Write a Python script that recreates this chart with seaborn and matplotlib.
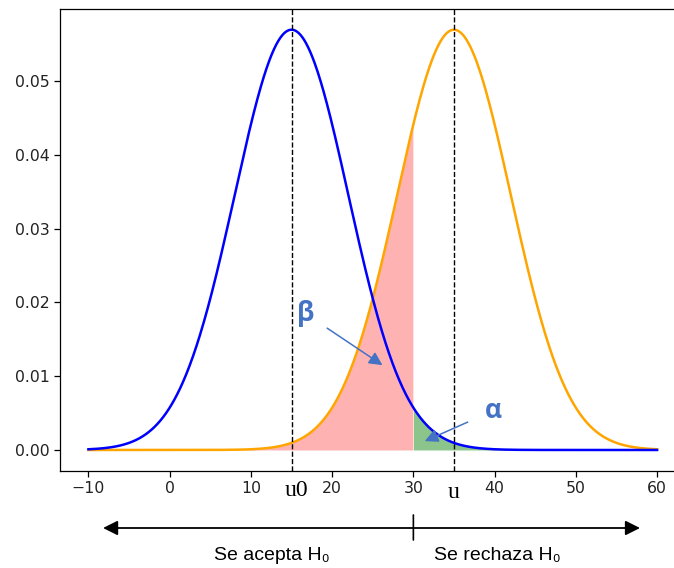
import numpy as np
import pandas as pd
import matplotlib
matplotlib.use("Agg")
import matplotlib.pyplot as plt
import seaborn as sns

# Hypothesis test parameters
mu0 = 15          # mean under H0
mu1 = 35          # true mean
sigma = 7         # common standard deviation
critical = 30     # rejection threshold
x_range = [-10, 60]

x_ticks = [-10, 0, 10, 20, 30, 40, 50, 60]
y_ticks = [0.00, 0.01, 0.02, 0.03, 0.04, 0.05]


def normal_pdf(x, mu, s):
    return np.exp(-0.5 * ((x - mu) / s) ** 2) / (s * np.sqrt(2 * np.pi))


x = np.linspace(x_range[0], x_range[1], 1000)
df = pd.DataFrame({
    "x": x,
    "h0": normal_pdf(x, mu0, sigma),
    "h1": normal_pdf(x, mu1, sigma),
})

plt.rcParams["font.family"] = ["DejaVu Sans"]
fig = plt.figure(figsize=(6.74, 5.68), dpi=100)
ax = fig.add_axes([60 / 674, 97 / 568, 625.5 / 674, 462 / 568])

sns.lineplot(data=df, x="x", y="h1", color="orange", lw=1.8, ax=ax)
sns.lineplot(data=df, x="x", y="h0", color="blue", lw=1.8, ax=ax)

# beta: area under the alternative curve left of the threshold
left = df[df["x"] <= critical]
ax.fill_between(left["x"], left["h1"], color="red", alpha=0.3, lw=0)
# alpha: area under the null curve right of the threshold
right = df[df["x"] >= critical]
ax.fill_between(right["x"], right["h0"], color="green", alpha=0.45, lw=0)

ax.axvline(mu0, color="black", ls="--", lw=1.0)
ax.axvline(mu1, color="black", ls="--", lw=1.0)

ax.set_xticks(x_ticks)
ax.set_yticks(y_ticks)
ax.set_yticklabels([f"{v:.2f}" for v in y_ticks])
ax.set_xlabel("")
ax.set_ylabel("")
ax.tick_params(labelsize=11.3, length=4, width=0.9, labelcolor="#222222")
ax.set_xlim(-13.5, 63.5)
ax.set_ylim(-0.00285, 0.0598)
for sp in ax.spines.values():
    sp.set_linewidth(0.9)

anno_color = "#4472C4"
ax.annotate("β", xy=(26.2, 0.0115), xytext=(16.7, 0.0185),
            color=anno_color, fontsize=19, fontweight="bold",
            family=["Open Sans", "DejaVu Sans"], ha="center", va="center",
            arrowprops=dict(arrowstyle="-|>", color=anno_color, lw=1.1,
                            mutation_scale=20, shrinkA=9, shrinkB=0))
ax.annotate("α", xy=(31.4, 0.0012), xytext=(39.8, 0.0053),
            color=anno_color, fontsize=19, fontweight="bold",
            family=["Open Sans", "DejaVu Sans"], ha="center", va="center",
            arrowprops=dict(arrowstyle="-|>", color=anno_color, lw=1.1,
                            mutation_scale=20, shrinkA=11, shrinkB=0))

# Mean labels under the axis
coords = ("data", "figure pixels")
ax.annotate("u0", xy=(mu0 + 0.6, 78), xycoords=coords, ha="center",
            va="center", fontsize=17, family=["Liberation Serif"],
            annotation_clip=False)
ax.annotate("u", xy=(mu1, 76), xycoords=coords, ha="center",
            va="center", fontsize=17, family=["Liberation Serif"],
            annotation_clip=False)

# Decision regions
ax.annotate("", xy=(-8.2, 40), xytext=(57.9, 40), xycoords=coords,
            textcoords=coords, annotation_clip=False,
            arrowprops=dict(arrowstyle="<|-|>", color="black", lw=1.3,
                            mutation_scale=22, shrinkA=0, shrinkB=0))
ax.annotate("", xy=(critical, 28), xytext=(critical, 53), xycoords=coords,
            textcoords=coords, annotation_clip=False,
            arrowprops=dict(arrowstyle="-", color="black", lw=1.2,
                            shrinkA=0, shrinkB=0))
ax.annotate("Se acepta H₀", xy=(12.6, 12), xycoords=coords, ha="center",
            va="center", fontsize=14, family=["Liberation Sans", "DejaVu Sans"],
            annotation_clip=False)
ax.annotate("Se rechaza H₀", xy=(40.3, 12), xycoords=coords, ha="center",
            va="center", fontsize=14, family=["Liberation Sans", "DejaVu Sans"],
            annotation_clip=False)

fig.savefig("out.png", dpi=100)
